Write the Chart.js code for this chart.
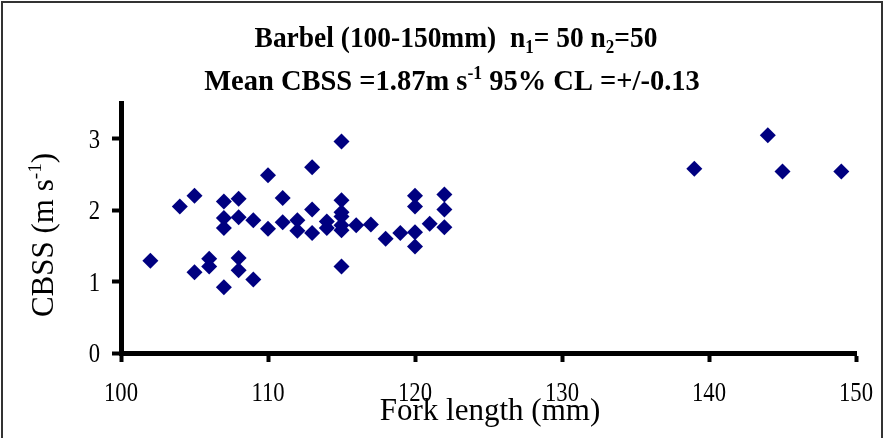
<!DOCTYPE html>
<html>
<head>
<meta charset="utf-8">
<script src="https://cdn.jsdelivr.net/npm/chart.js@4"></script>
<style>
  html, body { margin: 0; padding: 0; background: #fff; }
  canvas { display: block; }
</style>
</head>
<body>
<canvas id="cbssChart" width="885" height="438"></canvas>
<script>
// Fork length (mm) of each fish and its critical burst swimming speed (m/s)
const forkLength = [102, 104, 105, 105, 106, 106, 107, 107, 107, 107,
                    108, 108, 108, 108, 109, 109, 110, 110, 111, 111,
                    112, 112, 113, 113, 113, 114, 114, 115, 115, 115,
                    115, 115, 115, 115, 116, 117, 118, 119, 120, 120,
                    120, 120, 121, 122, 122, 122, 139, 144, 145, 149];
const cbss = [1.29, 2.05, 2.20, 1.13, 1.32, 1.21, 2.12, 1.89, 1.75, 0.92,
              2.16, 1.90, 1.33, 1.16, 1.86, 1.03, 2.49, 1.74, 2.17, 1.83,
              1.86, 1.71, 2.60, 2.01, 1.68, 1.84, 1.75, 2.96, 2.14, 1.97,
              1.91, 1.79, 1.72, 1.21, 1.79, 1.80, 1.60, 1.68, 2.20, 2.05,
              1.69, 1.49, 1.81, 2.22, 2.01, 1.76, 2.58, 3.05, 2.54, 2.54];

const xTicks = [100, 110, 120, 130, 140, 150];
const yTicks = [0, 1, 2, 3];

const SERIF = '"Liberation Serif", "Times New Roman", serif';

// draws a line of text with sub/superscript parts, centred on cx,
// squeezed horizontally by sx (the original text is narrow and tall)
function drawRich(ctx, parts, cx, y, size, weight, sx) {
    sx = sx || 1;
    let widths = parts.map(p => {
        const s = p.sub || p.sup ? size * 0.62 : size;
        ctx.font = weight + ' ' + s + 'px ' + SERIF;
        return ctx.measureText(p.t).width;
    });
    const total = widths.reduce((a, b) => a + b, 0);
    ctx.save();
    ctx.translate(cx, y);
    ctx.scale(sx, 1);
    let x = -total / 2;
    parts.forEach((p, i) => {
        const s = p.sub || p.sup ? size * 0.62 : size;
        let dy = 0;
        if (p.sub) dy = size * 0.2;
        if (p.sup) dy = -size * 0.38;
        ctx.font = weight + ' ' + s + 'px ' + SERIF;
        ctx.fillText(p.t, x, dy);
        x += widths[i];
    });
    ctx.restore();
}

const textPlugin = {
    id: 'textPlugin',
    afterDraw(chart) {
        const ctx = chart.ctx;
        const xs = chart.scales.x, ys = chart.scales.y;
        ctx.save();
        // outer frame
        ctx.strokeStyle = '#333';
        ctx.lineWidth = 2;
        ctx.strokeRect(2, 2, 880, 450);

        ctx.fillStyle = '#000';
        ctx.textAlign = 'left';
        ctx.textBaseline = 'alphabetic';
        drawRich(ctx, [
            { t: 'Barbel (100-150mm)  n' }, { t: '1', sub: true },
            { t: '= 50 n' }, { t: '2', sub: true }, { t: '=50' }
        ], 456, 47, 30, 'bold', 0.915);
        drawRich(ctx, [
            { t: 'Mean CBSS =1.87m s' }, { t: '-1', sup: true },
            { t: ' 95% CL =+/-0.13' }
        ], 452, 90, 30, 'bold', 0.95);

        // tick labels
        ctx.font = '27px ' + SERIF;
        xTicks.forEach(v => {
            drawRich(ctx, [{ t: String(v) }], xs.getPixelForValue(v), 401, 27, 'normal', 0.84);
        });
        yTicks.forEach(v => {
            const w = ctx.measureText(String(v)).width * 0.84;
            drawRich(ctx, [{ t: String(v) }], 100 - w / 2, ys.getPixelForValue(v) + 9, 27, 'normal', 0.84);
        });

        // x axis title
        drawRich(ctx, [{ t: 'Fork length (mm)' }], 490, 420, 31, 'normal');

        // y axis title (rotated)
        ctx.translate(53, 235);
        ctx.rotate(-Math.PI / 2);
        drawRich(ctx, [
            { t: 'CBSS (m s' }, { t: '-1', sup: true }, { t: ')' }
        ], 0, 0, 31, 'normal');
        ctx.restore();
    }
};

const points = forkLength.map((x, i) => ({ x: x, y: cbss[i] }));

new Chart(document.getElementById('cbssChart'), {
    type: 'scatter',
    data: {
        datasets: [{
            data: points,
            pointStyle: 'rectRot',
            pointRadius: 8,
            pointBackgroundColor: '#000080',
            pointBorderColor: '#000080',
            pointBorderWidth: 0
        }]
    },
    options: {
        responsive: false,
        animation: false,
        devicePixelRatio: 1,
        layout: { padding: { top: 103, right: 29, left: 0, bottom: 0 } },
        plugins: {
            legend: { display: false },
            tooltip: { enabled: false }
        },
        scales: {
            x: {
                type: 'linear',
                min: 100,
                max: 150,
                afterBuildTicks: s => { s.ticks = xTicks.map(v => ({ value: v })); },
                afterFit: s => { s.height = 85; },
                border: { display: true, color: '#000', width: 5 },
                grid: { drawOnChartArea: false, drawTicks: true, tickLength: 9, tickWidth: 4, tickColor: '#000' },
                ticks: { display: false }
            },
            y: {
                type: 'linear',
                min: 0,
                max: 3.5,
                afterBuildTicks: s => { s.ticks = yTicks.map(v => ({ value: v })); },
                afterFit: s => { s.width = 121; },
                border: { display: true, color: '#000', width: 5 },
                grid: { drawOnChartArea: false, drawTicks: true, tickLength: 9, tickWidth: 4, tickColor: '#000' },
                ticks: { display: false }
            }
        }
    },
    plugins: [textPlugin]
});
</script>
</body>
</html>
